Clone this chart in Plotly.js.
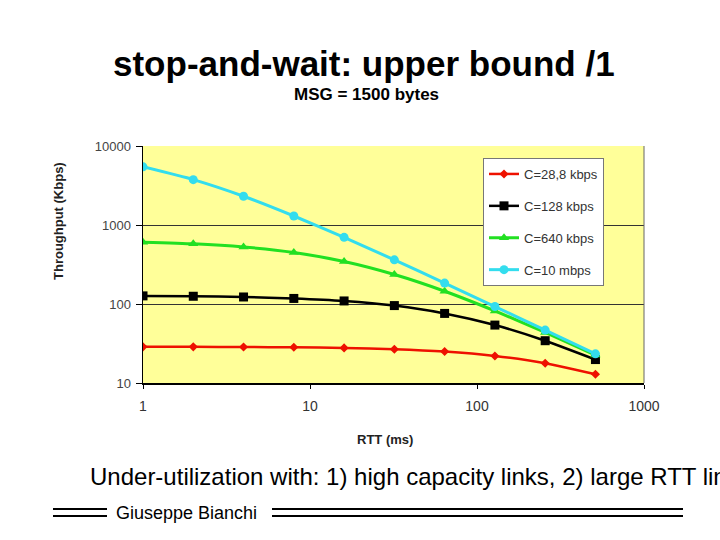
<!DOCTYPE html>
<html>
<head>
<meta charset="utf-8">
<script src="https://cdn.plot.ly/plotly-3.0.1.min.js"></script>
<style>html,body{margin:0;padding:0;background:#fff;}#chart{width:720px;height:540px;}</style>
</head>
<body>
<div id="chart"></div>
<script>
const rtt = [1, 2, 4, 8, 16, 32, 64, 128, 256, 512];
const seriesNames = ["C=28,8 kbps", "C=128 kbps", "C=640 kbps", "C=10 mbps"];
const c28 = [28.7, 28.7, 28.5, 28.3, 27.8, 26.8, 25.0, 22.0, 17.8, 12.9];
const c128 = [126.7, 125.3, 122.7, 117.6, 109.3, 95.5, 76.0, 54.1, 34.3, 19.8];
const c640 = [607, 578, 527, 449, 345, 236, 145, 81.7, 43.7, 22.6];
const c10m = [5450, 3750, 2310, 1300, 698, 362, 184, 92.9, 46.7, 23.4];
const xTicks = [1, 10, 100, 1000];
const yTicks = [10, 100, 1000, 10000];

const W = 501, H = 237, L = 143, T = 146;
const px = x => (x - L) / W;
const py = y => 1 - (y - T) / H;

const styles = [
  {color: "#EE1100", symbol: "diamond", size: 7, width: 2.5},
  {color: "#000000", symbol: "square", size: 9, width: 2.5},
  {color: "#22E022", symbol: "triangle-up", size: 9, width: 3},
  {color: "#33DDEE", symbol: "circle", size: 9, width: 3}
];
const values = [c28, c128, c640, c10m];
const traces = values.map((v, i) => ({
  x: rtt, y: v, name: seriesNames[i], type: "scatter", mode: "lines+markers",
  legendgroup: "g" + i,
  line: {color: styles[i].color, width: styles[i].width, shape: "spline", smoothing: 0.5},
  marker: {color: styles[i].color, symbol: styles[i].symbol, size: styles[i].size}
}));

const layout = {
  width: 720, height: 540,
  margin: {l: L, r: 720 - L - W, t: T, b: 540 - T - H},
  paper_bgcolor: "#ffffff",
  plot_bgcolor: "#FFFF99",
  font: {family: "Liberation Sans, Arial, sans-serif"},
  showlegend: true,
  legend: {
    x: px(483), y: py(158), xanchor: "left", yanchor: "top",
    bgcolor: "#ffffff", bordercolor: "#777777", borderwidth: 1,
    font: {size: 13, color: "#333333"},
    tracegroupgap: 12, itemwidth: 30
  },
  xaxis: {
    type: "log", range: [0, 3],
    tickvals: xTicks, ticktext: xTicks.map(String),
    showgrid: false, zeroline: false,
    showline: true, linecolor: "#000", linewidth: 1.5, mirror: false,
    ticks: "outside", ticklen: 4, tickcolor: "#000",
    ticklabelstandoff: 6,
    tickfont: {size: 14, color: "#333"}
  },
  yaxis: {
    type: "log", range: [1, 4],
    tickvals: yTicks, ticktext: yTicks.map(String),
    showgrid: true, gridcolor: "#333333", gridwidth: 1,
    zeroline: false,
    showline: true, linecolor: "#000", linewidth: 1.5,
    ticks: "outside", ticklen: 6, tickcolor: "#000",
    ticklabelstandoff: 2,
    tickfont: {size: 13, color: "#444"}
  },
  shapes: [
    {type: "line", xref: "paper", yref: "paper", x0: 1, x1: 1, y0: 0, y1: 1, line: {color: "#666", width: 1}},
    {type: "line", xref: "paper", yref: "paper", x0: px(53), x1: px(107), y0: py(509), y1: py(509), line: {color: "#000", width: 2}},
    {type: "line", xref: "paper", yref: "paper", x0: px(53), x1: px(107), y0: py(516), y1: py(516), line: {color: "#000", width: 2}},
    {type: "line", xref: "paper", yref: "paper", x0: px(272), x1: px(683), y0: py(509), y1: py(509), line: {color: "#000", width: 2}},
    {type: "line", xref: "paper", yref: "paper", x0: px(272), x1: px(683), y0: py(516), y1: py(516), line: {color: "#000", width: 2}}
  ],
  annotations: [
    {text: "<b>stop-and-wait: upper bound /1</b>", xref: "paper", yref: "paper", x: px(364), y: py(63), xanchor: "center", yanchor: "middle", showarrow: false, font: {size: 35, color: "#000"}},
    {text: "<b>MSG = 1500 bytes</b>", xref: "paper", yref: "paper", x: px(366), y: py(94), xanchor: "center", yanchor: "middle", showarrow: false, font: {size: 17, color: "#000"}},
    {text: "<b>Throughput (Kbps)</b>", xref: "paper", yref: "paper", x: px(58), y: py(221), xanchor: "center", yanchor: "middle", textangle: -90, showarrow: false, font: {size: 13, color: "#222"}},
    {text: "<b>RTT (ms)</b>", xref: "paper", yref: "paper", x: px(385), y: py(439), xanchor: "center", yanchor: "middle", showarrow: false, font: {size: 13, color: "#222"}},
    {text: "Under-utilization with: 1) high capacity links, 2) large RTT links", xref: "paper", yref: "paper", x: px(88), y: py(476), xanchor: "left", yanchor: "middle", showarrow: false, font: {size: 24, color: "#000"}},
    {text: "Giuseppe Bianchi", xref: "paper", yref: "paper", x: px(114), y: py(513), xanchor: "left", yanchor: "middle", showarrow: false, font: {size: 18, color: "#000"}}
  ]
};

Plotly.newPlot("chart", traces, layout, {displayModeBar: false, staticPlot: true});
</script>
</body>
</html>
